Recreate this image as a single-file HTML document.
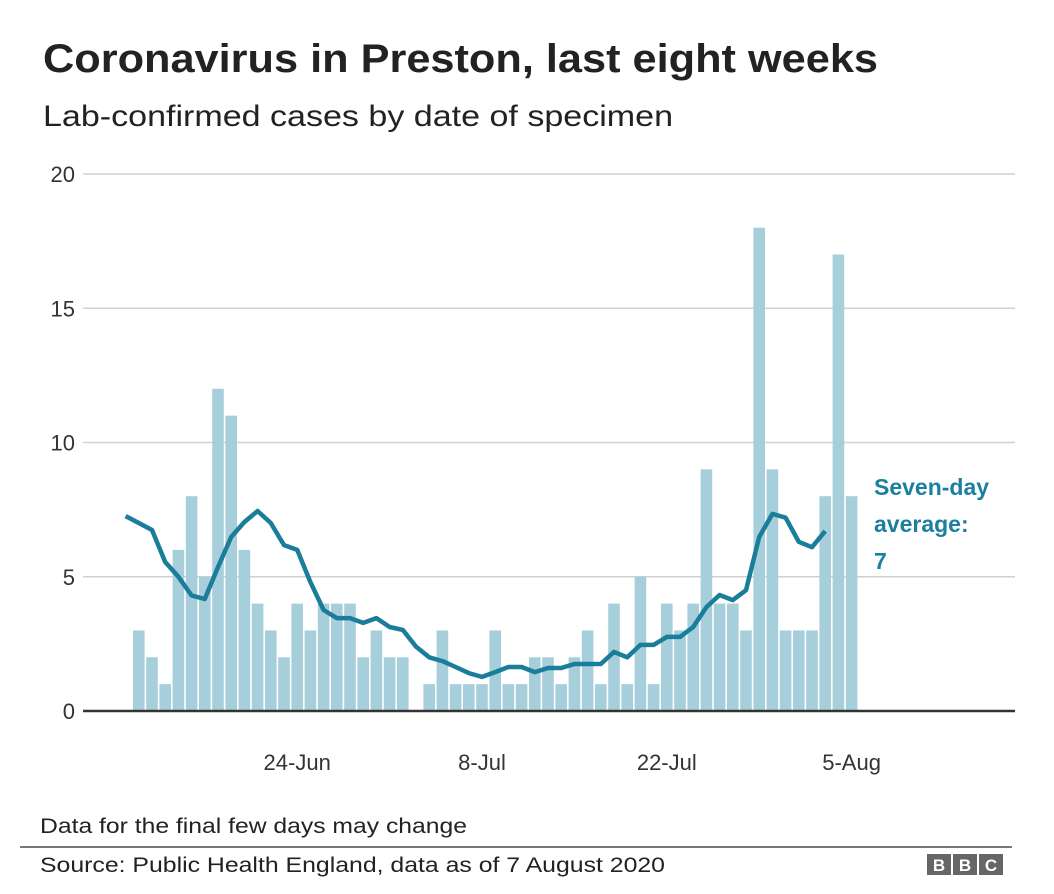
<!DOCTYPE html>
<html><head><meta charset="utf-8"><style>
body{margin:0;background:#fff;}
svg{display:block;font-family:"Liberation Sans",Arial,sans-serif;}
</style></head><body>
<svg id="chart" width="1054" height="894" viewBox="0 0 1054 894">
<text x="43" y="72" font-size="40" font-weight="bold" fill="#222" textLength="835" lengthAdjust="spacingAndGlyphs">Coronavirus in Preston, last eight weeks</text>
<text x="43" y="126" font-size="30" fill="#222" textLength="630" lengthAdjust="spacingAndGlyphs">Lab-confirmed cases by date of specimen</text>
<g id="grid"></g><g id="bars"></g><g id="avg"></g><g id="xaxis"></g>
<text x="874" y="495" font-size="23" font-weight="bold" fill="#1b7fa0"><tspan x="874">Seven-day</tspan><tspan x="874" dy="37">average:</tspan><tspan x="874" dy="37">7</tspan></text>
<text x="40" y="833" font-size="21" fill="#222" textLength="427" lengthAdjust="spacingAndGlyphs">Data for the final few days may change</text>
<line x1="20" y1="847" x2="1012" y2="847" stroke="#777" stroke-width="2"/>
<text x="40" y="872" font-size="21" fill="#222" textLength="625" lengthAdjust="spacingAndGlyphs">Source: Public Health England, data as of 7 August 2020</text>
<g>
<rect x="927" y="854" width="24" height="21" fill="#666"/><rect x="953" y="854" width="24" height="21" fill="#666"/><rect x="979" y="854" width="24" height="21" fill="#666"/>
<text x="939" y="871" font-size="17" font-weight="bold" fill="#fff" text-anchor="middle">B</text>
<text x="965" y="871" font-size="17" font-weight="bold" fill="#fff" text-anchor="middle">B</text>
<text x="991" y="871" font-size="17" font-weight="bold" fill="#fff" text-anchor="middle">C</text>
</g>
</svg>
<script>
const cases = [0,3,2,1,6,8,5,12,11,6,4,3,2,4,3,4,4,4,2,3,2,2,0,1,3,1,1,1,3,1,1,2,2,1,2,3,1,4,1,5,1,4,3,4,9,4,4,3,18,9,3,3,3,8,17,8];
const average = [7.26,7.0,6.74,5.55,5.0,4.3,4.17,5.36,6.48,7.04,7.45,7.0,6.18,6.0,4.8,3.76,3.46,3.46,3.28,3.46,3.13,3.02,2.4,2.0,1.86,1.64,1.41,1.27,1.45,1.64,1.64,1.45,1.6,1.6,1.75,1.75,1.75,2.2,2.0,2.46,2.46,2.76,2.76,3.13,3.87,4.32,4.13,4.5,6.48,7.34,7.2,6.3,6.1,6.7];
const yTicks = [0,5,10,15,20];
const xTickIdx = [13,27,41,55];
const xTickLabels = ["24-Jun","8-Jul","22-Jul","5-Aug"];
const NS="http://www.w3.org/2000/svg";
const step=13.2, x0=119.8, bw=11.6;
const xc=i=>x0+i*step+bw/2;
const y=v=>711-v*(537/20);
function mk(tag,attrs,parent){const e=document.createElementNS(NS,tag);for(const k in attrs)e.setAttribute(k,attrs[k]);parent.appendChild(e);return e;}
const grid=document.getElementById('grid');
yTicks.forEach(t=>{
 if(t>0){const l=mk('line',{x1:83,x2:1015,y1:y(t),y2:y(t),stroke:'#d0d0d0','stroke-width':1.5},grid);
 
 }
 const tx=mk('text',{x:75,y:y(t)+8,'font-size':22,fill:'#333','text-anchor':'end'},grid);
 tx.textContent=t;
 
 
});
const bars=document.getElementById('bars');
cases.forEach((v,i)=>{
 if(v<=0)return;
 const r=mk('rect',{x:x0+i*step,y:y(v),width:bw,height:711-y(v),fill:'#a6cedb'},bars);
 
 
});
const pts=average.map((v,i)=>xc(i).toFixed(1)+','+y(v).toFixed(1)).join(' ');
const pl=mk('polyline',{points:pts,fill:'none',stroke:'#1a7d99','stroke-width':4.5,'stroke-linejoin':'round'},document.getElementById('avg'));


const xa=document.getElementById('xaxis');
const base=mk('line',{x1:83,x2:1015,y1:711,y2:711,stroke:'#333','stroke-width':2.5},xa);


xTickIdx.forEach((idx,k)=>{
 const t=mk('text',{x:xc(idx),y:770,'font-size':22,fill:'#333','text-anchor':'middle'},xa);
 t.textContent=xTickLabels[k];
 
 
});
</script>
</body></html>
